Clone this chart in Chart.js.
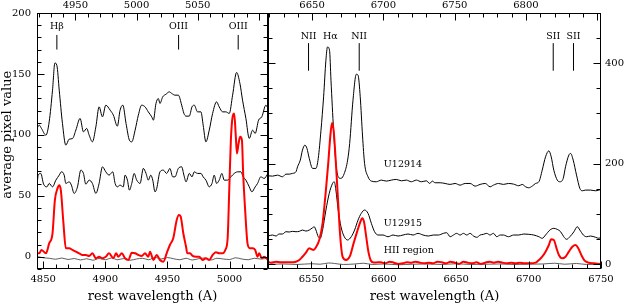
<!doctype html>
<html lang="en">
<head>
<meta charset="UTF-8">
<title>Spectra</title>
<script src="https://cdn.jsdelivr.net/npm/chart.js@4.4.1/dist/chart.umd.min.js"></script>
<style>
  body { margin: 0; background: #fff; }
  #wrap { position: relative; width: 624px; height: 304px; }
  #blue { position: absolute; left: 0; top: 0; }
  #red { position: absolute; left: 265px; top: 0; }
</style>
</head>
<body>
<div id="wrap">
  <canvas id="blue" width="271" height="304"></canvas>
  <canvas id="red" width="359" height="304"></canvas>
</div>
<script>
  // observed / rest wavelength, used for the top axes
  const zFactor = 1.0152;

  const blueRange = [4845, 5031];
  const redRange = [6520, 6750];

  const blueBottomTicks = [4850, 4900, 4950, 5000];
  const blueTopTicks = [4950, 5000, 5050];
  const blueYTicks = [0, 50, 100, 150, 200];
  const redBottomTicks = [6550, 6600, 6650, 6700, 6750];
  const redTopTicks = [6650, 6700, 6750, 6800];
  const redYTicks = [0, 200, 400];

  const blueLineNames = ['H\u03b2', 'OIII', 'OIII'];
  const blueLineWaves = [4861, 4959, 5007];
  const redLineNames = ['NII', 'H\u03b1', 'NII', 'SII', 'SII'];
  const redLineWaves = [6548, 6563, 6583, 6717, 6731];
  const redMarkerWaves = [6548, 6583, 6717, 6731];
  const spectrumNames = ['U12914', 'U12915', 'HII region'];
  const spectrumNameLevels = [199, 80, 26];

  // [rest wavelength, average pixel value]
  const u12914Blue = [[4845,105.3],[4846.8,108],[4848.6,105.3],[4852.2,99.8],[4854.8,110.7],[4857.5,136.7],[4859.4,159],[4861,157],[4862.9,136.7],[4865.5,109.4],[4868.2,91.6],[4870.9,96.5],[4873.6,97],[4876.3,104],[4879.7,113.5],[4882.4,102.5],[4885,105.3],[4887,99.8],[4889.6,94.3],[4892.4,106.6],[4895,123],[4897.7,114.8],[4900.4,124.4],[4903.9,120.3],[4906.5,116.2],[4909.7,107.2],[4911.9,120.3],[4914.1,124.4],[4916.7,109.4],[4919.4,95.7],[4921.3,94.3],[4924,103.9],[4926.6,116.2],[4929.3,124.4],[4932,123],[4934.6,118.9],[4937.4,114.8],[4938.7,112.1],[4940.8,125.8],[4942.7,129.8],[4944,125.8],[4946.2,131.2],[4948.9,133.4],[4951.5,135.3],[4953.5,134],[4956.1,132.6],[4958.8,132.6],[4961.5,124.4],[4963.3,117.6],[4965,115.4],[4967.6,115.4],[4969.8,123],[4971.6,124.4],[4974.3,118.9],[4977,118.9],[4978.8,108],[4981,94.3],[4983.7,103.9],[4986.4,117.6],[4989.6,127.1],[4991.7,123],[4994.5,118.9],[4997.1,118.9],[4999.8,117.6],[5002.5,132.6],[5005.7,151.2],[5008.4,142.2],[5010.5,128.5],[5013.2,113.5],[5015.9,97.1],[5018.6,103.9],[5020.7,101.2],[5023.4,112.1],[5026,114.8],[5029.3,124.4],[5031,121.7]];

  const u12915Blue = [[4845,58.8],[4846,67],[4848,68.4],[4850.3,59.6],[4853,57.4],[4854.8,60.2],[4857.5,57.4],[4860.2,62.9],[4862.9,67],[4864.7,69.7],[4866.9,67],[4868.2,60.2],[4870.9,61.5],[4872.7,58.8],[4874.9,52],[4877.6,57.4],[4880.3,71.1],[4882.4,68.4],[4884.3,59.6],[4887,62.9],[4889.6,60.2],[4892.4,52],[4895,60.2],[4897.7,73.8],[4900.4,69.7],[4903,67],[4906,69.7],[4907.9,60.2],[4909.7,57.4],[4911.9,58.8],[4914.5,57.4],[4915.9,67],[4917.8,62.9],[4919.4,54.7],[4921.3,60.2],[4923.2,68.4],[4925.3,62.9],[4928,60.2],[4930.6,72.5],[4932.8,68.4],[4934.6,62.9],[4936.6,67],[4938.2,62.9],[4940,53.3],[4941.4,56.1],[4944,69.7],[4946.7,71.1],[4949.4,68.4],[4952,72.5],[4954.3,65.6],[4956.1,65.6],[4958.8,72.5],[4961.5,73.8],[4963.3,67],[4965,61.5],[4967.6,68.4],[4969.8,65.6],[4971.6,69.7],[4974.3,68.4],[4977,68.4],[4978.8,65.6],[4981,62.9],[4983.7,57.4],[4985.9,60.2],[4987.7,67],[4989.6,60.2],[4991.7,62.9],[4993.9,68.4],[4995.7,62.9],[4998.5,62.9],[5001.1,65.6],[5003.8,68.4],[5006.5,69.7],[5009.2,69.7],[5011,65.6],[5013.2,62.9],[5015.9,57.4],[5018,53.3],[5020.7,57.4],[5022.6,60.2],[5025.2,65.6],[5027.9,64.3],[5031,68.4]];

  const hiiBlue = [[4845,2.9],[4846.8,2.9],[4848.6,5.6],[4852.2,2.9],[4854.8,11],[4857.5,19.3],[4859.4,46.5],[4861.5,56.1],[4862.9,58.8],[4864.2,54.7],[4866.3,27.4],[4868.2,7],[4870.9,7],[4873.6,5.6],[4876.3,4.2],[4878.9,2.9],[4881.6,1.5],[4884.3,1.5],[4887,0.7],[4889.6,2.9],[4892.4,-1.2],[4895,0.1],[4897.7,-1.2],[4900.4,0.1],[4903,2.9],[4906.5,-1.2],[4908.7,2.9],[4910.5,0.1],[4913.3,2.9],[4915.9,-1.2],[4918.6,-2.6],[4921.3,3.4],[4924,2.9],[4926.6,1.5],[4929.3,0.7],[4932,2.9],[4934.6,0.1],[4936,4.2],[4938.7,-2.6],[4941.4,1.5],[4944,-2.6],[4946.7,-4],[4949.4,2.9],[4952,9.7],[4954.7,15.2],[4957.5,30.2],[4959.3,34.2],[4960.7,32.9],[4962.8,19.3],[4965,8.3],[4966,2.9],[4968.2,2.9],[4970.3,0.7],[4973,0.1],[4975.6,0.1],[4978.4,-2.6],[4981,-1.2],[4983.7,-2.6],[4986.4,1.5],[4989,3.7],[4991.7,2.9],[4994.5,2.9],[4996.6,5.6],[4998.5,15.2],[4999.8,54.7],[5001.1,95.7],[5002.5,114.8],[5003.8,117.6],[5005.1,98.4],[5006,84.8],[5007.3,93],[5008.6,98.4],[5010,95.7],[5011,68.4],[5012.6,38.3],[5014.5,11],[5016.4,7],[5018.6,7],[5020.7,5.6],[5022.6,0.1],[5023.9,2.9],[5026,-1.2],[5027.9,0.1],[5031,-2.6]];

  const baseBlue = [[4845,0.3],[4850,-0.8],[4855,-1.2],[4860,-2],[4865,-1],[4870,-2.2],[4875,-1.4],[4880,-2.6],[4885,-1.6],[4890,-2.8],[4895,-1.4],[4900,-2.4],[4905,-1],[4910,-2.4],[4915,-1.4],[4920,-2.8],[4925,-1.8],[4930,-1.2],[4935,-2.4],[4940,-0.4],[4945,-1.8],[4950,-0.6],[4955,-1.6],[4960,-2.4],[4965,-1.2],[4970,-2.6],[4975,-1.6],[4980,-1],[4985,-2.6],[4990,-1.2],[4995,-1.8],[5000,-2.2],[5005,-0.8],[5010,-1.8],[5015,-2.4],[5020,-1.2],[5025,-1.8],[5031,-1.2]];

  const u12914Red = [[6520,175.7],[6523.1,175],[6526.6,177],[6530,173.7],[6532.4,179],[6534.6,179],[6536.9,180.4],[6539.3,183.6],[6540.4,193.6],[6542.3,206.9],[6543.8,226.8],[6545.5,236.8],[6546.9,230.2],[6548.5,210.3],[6550.8,190.4],[6553.1,190.4],[6554.7,210.3],[6556.6,266.6],[6558.4,332.9],[6560,405.9],[6561.1,432.4],[6562.5,425.8],[6563.5,366.1],[6565.3,266.6],[6566.9,200.4],[6568.5,173.7],[6570.4,170.5],[6572.7,180.4],[6575,206.9],[6576.4,240],[6578.7,326.3],[6581,378],[6582.2,376],[6583.7,333],[6585.3,255],[6586.7,200.4],[6589.1,173.7],[6591.4,165.1],[6594.8,163.8],[6598.3,167.1],[6601.7,165.1],[6605.2,167.1],[6608.6,168.5],[6612.1,165.7],[6615.6,167.1],[6619,163.8],[6622.5,167.1],[6625.9,163.8],[6629.4,165.7],[6631.7,160.4],[6633.5,165.1],[6635.4,161.8],[6638.9,161.8],[6642.3,160.4],[6645.8,158.5],[6649.2,160.4],[6652.7,157.1],[6656.2,160.4],[6659.6,160.4],[6663.1,155.1],[6666.5,158.5],[6670,160.4],[6673.4,153.8],[6675.7,157.1],[6679.2,160.4],[6682.6,158.5],[6686.1,160.4],[6689.6,159.1],[6693.2,155.8],[6695.6,158.5],[6697.9,153.8],[6700.1,151.8],[6702.5,155.1],[6704.8,160.4],[6707.1,163.8],[6709.4,187],[6711.7,213.5],[6714,225.4],[6715.6,213.5],[6717.4,187],[6719.8,167.1],[6721.6,163.8],[6723.9,170.5],[6725.5,193.6],[6727.8,216.9],[6729,220.2],[6730.8,206.9],[6733.1,177],[6735.4,150.5],[6737.1,145.8],[6739.3,147.2],[6742.8,147.2],[6746.3,145.8],[6750,148.6]];

  const u12915Red = [[6520,55.7],[6523.1,57.7],[6525.5,55.7],[6527.7,59.7],[6530,59.7],[6532.4,64.3],[6534.6,63.7],[6536.9,65],[6539.3,64.3],[6541.6,65],[6543.8,67.6],[6546.2,65.6],[6548.5,67.6],[6550.8,72.2],[6551.9,74.2],[6553.1,67.6],[6554.7,54.3],[6556.1,51.1],[6557.7,67.6],[6560,107.4],[6562.3,140.7],[6564.6,160.6],[6565.8,163.8],[6566.9,147.2],[6568.5,107.4],[6570.4,74.2],[6572.7,54.3],[6575,47.8],[6577.5,54.3],[6579.8,67.6],[6582.2,87.5],[6584.4,100.8],[6586.7,107.4],[6589.1,100.8],[6591.4,80.9],[6593.6,64.3],[6596,57.7],[6599.4,57.7],[6602.9,54.3],[6606.4,57.7],[6609.8,55.7],[6613.3,57.7],[6616.7,59.7],[6620.2,57.7],[6623.6,61],[6627.1,57.7],[6630.8,55.7],[6634.2,57.7],[6637.7,57.7],[6641.1,61],[6643.4,62.3],[6645.8,54.3],[6648.1,57.7],[6650.3,61],[6652.7,57.7],[6655,61],[6657.3,57.7],[6659.6,61],[6661.9,55.7],[6664.2,53.1],[6666.5,57.7],[6668.8,59.1],[6671.1,61],[6673.4,57.7],[6675.7,61],[6678,54.3],[6680.4,57.7],[6682.6,57.7],[6686.1,54.3],[6689.6,57.7],[6693.2,57.7],[6696.7,59.7],[6700.1,59.1],[6703.6,57.7],[6707.1,54.3],[6709.4,51.1],[6711.7,57.7],[6714.7,67.6],[6717.4,71],[6719.8,69],[6722.1,64.3],[6724.3,54.3],[6726.2,49.1],[6728.5,54.3],[6731.3,64.3],[6733.6,74.2],[6735.4,67.6],[6737.8,57.7],[6740,54.3],[6742.8,55.7],[6746.3,53.1],[6748.6,51.1],[6750,54.3]];

  const hiiRed = [[6520,4.6],[6522,2.6],[6525.5,4.6],[6528.9,3.3],[6532.4,3.3],[6535.8,3.3],[6539.3,4.6],[6541.6,7.9],[6543.8,14.5],[6546.2,22.5],[6548.5,31.2],[6549.7,29.8],[6551.5,27.9],[6553.1,33.2],[6555.4,47.8],[6557.7,81],[6560,147.2],[6561.6,200.4],[6563,253.3],[6564.2,281.1],[6565.3,266.6],[6566.9,200.4],[6568.5,120.8],[6569.9,54.3],[6571.5,14.5],[6573.9,7.9],[6576.5,15],[6579,40],[6581.3,62],[6583.8,84],[6585,91],[6586.3,84],[6587.8,55],[6589.3,25],[6591,7],[6593,3],[6596,3.3],[6598,3.3],[6601,1.3],[6604,4.6],[6607,2.6],[6610,0],[6613,1.3],[6616,3.3],[6619,2.6],[6622,4.6],[6625,2.6],[6628,1.3],[6631,2.6],[6634,1.3],[6637,4.6],[6640,3.3],[6643,1.3],[6646,4.6],[6649,2.6],[6652,0],[6655,4.6],[6658,2.6],[6661,1.3],[6664,3.3],[6667,0],[6670,2.6],[6673,4.6],[6676,2.6],[6679,4.6],[6682,2.6],[6685,1.3],[6688,2.6],[6691,1.3],[6694,2.6],[6697,1.3],[6701,1.3],[6704.8,2.6],[6707.1,7.9],[6709.4,14.5],[6711.7,24.5],[6714,37.8],[6715.6,49.1],[6717.4,47.8],[6719.3,31.2],[6720.9,17.9],[6723.2,11.3],[6725.5,14.5],[6727.8,24.5],[6730.2,34.4],[6732.4,37.8],[6734.3,31.2],[6736.4,17.9],[6738.7,6.6],[6741.6,2.6],[6745.1,1.3],[6748.6,0],[6750,0.5]];

  const baseRed = [[6520,-1],[6530,0],[6540,-1],[6550,0.5],[6556,-0.5],[6562,2],[6566,1],[6572,-1],[6580,0],[6586,1.5],[6592,-1],[6600,0],[6610,-1.5],[6620,-0.5],[6630,0],[6640,-1],[6650,0.5],[6660,-1],[6670,-0.5],[6680,0],[6690,-1],[6700,-0.5],[6710,0],[6718,1.5],[6725,-0.5],[6733,1],[6740,-1],[6750,-0.5]];

  const serif = '"DejaVu Serif", "Liberation Serif", serif';

  const pts = arr => arr.map(([x, y]) => ({x, y}));

  function markerData(waves, lo, hi) {
    const out = [];
    waves.forEach(w => out.push({x: w, y: lo}, {x: w, y: hi}, {x: w, y: null}));
    return out;
  }

  function spectrum(data, color, width) {
    return {
      data: pts(data), borderColor: color, borderWidth: width, showLine: true,
      pointRadius: 0, cubicInterpolationMode: 'monotone', fill: false
    };
  }

  function markers(data) {
    return {data, borderColor: '#000', borderWidth: 1, showLine: true, pointRadius: 0, spanGaps: false};
  }

  // box round the plot and small inward tick marks, placed through the scales
  function frame(marks) {
    return {
      id: 'frame',
      afterDatasetsDraw(chart) {
        const {ctx, chartArea: a} = chart;
        const L = Math.round(a.left) + 0.5, R = Math.round(a.right) - 0.5;
        const T = Math.round(a.top) + 0.5, B = Math.round(a.bottom) - 0.5;
        ctx.save();
        ctx.strokeStyle = '#000';
        ctx.lineWidth = 1;
        ctx.strokeRect(L, T, R - L, B - T);
        ctx.beginPath();
        marks.forEach(m => {
          const sc = chart.scales[m.scale];
          const n0 = Math.ceil(sc.min / m.minor), n1 = Math.floor(sc.max / m.minor);
          for (let n = n0; n <= n1; n++) {
            const v = n * m.minor;
            const len = v % m.major === 0 ? 7 : 4;
            const p = Math.round(sc.getPixelForValue(v)) + 0.5;
            if (m.side === 'bottom') { ctx.moveTo(p, B); ctx.lineTo(p, B - len); }
            if (m.side === 'top') { ctx.moveTo(p, T); ctx.lineTo(p, T + len); }
            if (m.side === 'left') { ctx.moveTo(L, p); ctx.lineTo(L + len, p); }
            if (m.side === 'right') { ctx.moveTo(R, p); ctx.lineTo(R - len, p); }
          }
        });
        ctx.stroke();
        ctx.restore();
      }
    };
  }

  function labels(items) {
    return {
      id: 'labels',
      afterDatasetsDraw(chart) {
        const {ctx} = chart;
        ctx.save();
        ctx.fillStyle = '#000';
        ctx.textBaseline = 'middle';
        ctx.font = '9.5px ' + serif;
        items.forEach(it => {
          ctx.textAlign = it.align;
          ctx.fillText(it.text, chart.scales.x.getPixelForValue(it.x), chart.scales.y.getPixelForValue(it.y));
        });
        ctx.restore();
      }
    };
  }

  function axis(position, min, max, tickList, size, padding, title) {
    const horizontal = position === 'top' || position === 'bottom';
    return {
      type: 'linear', position, min, max,
      grid: {display: false, drawTicks: false},
      border: {display: false},
      afterBuildTicks: s => { s.ticks = tickList.map(value => ({value})); },
      afterFit: s => { if (horizontal) s.height = size; else s.width = size; },
      ticks: {
        callback: v => String(v), padding, color: '#000', autoSkip: false, maxRotation: 0,
        font: {family: serif, size: 10}
      },
      title: {
        display: !!title, text: title || '', color: '#000', padding: 0,
        font: {family: serif, size: 13}
      }
    };
  }

  const common = {
    responsive: false,
    animation: false,
    plugins: {legend: {display: false}, tooltip: {enabled: false}}
  };

  new Chart(document.getElementById('blue'), {
    type: 'scatter',
    data: {
      datasets: [
        spectrum(hiiBlue, '#ff0000', 2),
        spectrum(u12914Blue, '#000', 1),
        spectrum(u12915Blue, '#000', 1),
        spectrum(baseBlue, '#333', 0.8),
        markers(markerData(blueLineWaves, 170, 182))
      ]
    },
    options: {
      ...common,
      layout: {padding: {left: 0, right: 3, top: 0, bottom: 0}},
      scales: {
        x: axis('bottom', blueRange[0], blueRange[1], blueBottomTicks, 35, 4, 'rest wavelength (A)'),
        xTop: axis('top', blueRange[0] * zFactor, blueRange[1] * zFactor, blueTopTicks, 13, 2),
        y: axis('left', -10, 200, blueYTicks, 37, 6, '   average pixel value')
      }
    },
    plugins: [
      frame([
        {scale: 'x', side: 'bottom', minor: 10, major: 50},
        {scale: 'xTop', side: 'top', minor: 10, major: 50},
        {scale: 'y', side: 'left', minor: 10, major: 50},
        {scale: 'y', side: 'right', minor: 10, major: 50}
      ]),
      labels(blueLineNames.map((text, i) => ({text, x: blueLineWaves[i], y: 188.8, align: 'center'})))
    ]
  });

  new Chart(document.getElementById('red'), {
    type: 'scatter',
    data: {
      datasets: [
        spectrum(hiiRed, '#ff0000', 2),
        spectrum(u12914Red, '#000', 1),
        spectrum(u12915Red, '#000', 1),
        spectrum(baseRed, '#333', 0.8),
        markers(markerData(redMarkerWaves, 385, 440))
      ]
    },
    options: {
      ...common,
      layout: {padding: {left: 3, right: 0, top: 0, bottom: 0}},
      scales: {
        x: axis('bottom', redRange[0], redRange[1], redBottomTicks, 35, 4, 'rest wavelength (A)'),
        xTop: axis('top', redRange[0] * zFactor, redRange[1] * zFactor, redTopTicks, 13, 2),
        y: axis('right', -10, 500, redYTicks, 23, 4)
      }
    },
    plugins: [
      frame([
        {scale: 'x', side: 'bottom', minor: 10, major: 50},
        {scale: 'xTop', side: 'top', minor: 10, major: 50},
        {scale: 'y', side: 'right', minor: 50, major: 200},
        {scale: 'y', side: 'left', minor: 50, major: 200}
      ]),
      labels(
        redLineNames.map((text, i) => ({text, x: redLineWaves[i], y: 454, align: 'center'}))
          .concat(spectrumNames.map((text, i) => ({text, x: 6600, y: spectrumNameLevels[i], align: 'left'})))
      )
    ]
  });
</script>
</body>
</html>
